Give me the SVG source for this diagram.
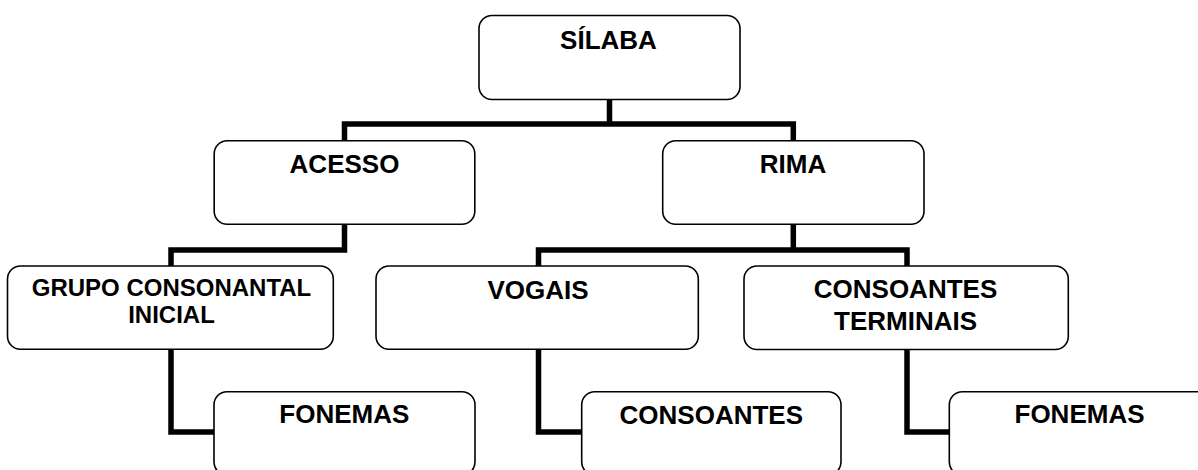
<svg xmlns="http://www.w3.org/2000/svg" width="1198" height="470" viewBox="0 0 1198 470">
<style>
.box{fill:#fff;stroke:#000;stroke-width:1.6}
.lbl{font-family:"Liberation Sans",Arial,sans-serif;font-weight:bold;font-size:26px;fill:#000;text-anchor:middle}
.sm{font-size:24px}
.con{fill:none;stroke:#000;stroke-width:5.5;stroke-linecap:square;stroke-linejoin:miter}
</style>
<rect width="1198" height="470" fill="#fff"/>
<g id="connectors">
<path class="con" d="M609.5,99.3 V124 M344.5,140.7 V124 H793.3 V140.7"/>
<path class="con" d="M344.5,224.3 V250 H171 V266"/>
<path class="con" d="M793.3,224.3 V250 M538.5,266 V250 H907 V266"/>
<path class="con" d="M171,349.3 V432 H214"/>
<path class="con" d="M538.5,349.3 V432 H581.7"/>
<path class="con" d="M907,349.3 V432 H949.3"/>
</g>
<g id="silaba">
<rect class="box" x="479" y="15.5" width="261" height="84" rx="13"/>
<text class="lbl" x="608.5" y="48.5">SÍLABA</text>
</g>
<g id="acesso">
<rect class="box" x="214.2" y="140.7" width="260.6" height="83.6" rx="13"/>
<text class="lbl" x="344.5" y="173.3">ACESSO</text>
</g>
<g id="rima">
<rect class="box" x="662.7" y="140.7" width="261.3" height="83.6" rx="13"/>
<text class="lbl" x="793" y="172.8">RIMA</text>
</g>
<g id="grupo">
<rect class="box" x="7.5" y="266" width="325.8" height="83.3" rx="13"/>
<text class="lbl sm" x="171.5" y="296">GRUPO CONSONANTAL</text>
<text class="lbl sm" x="171.5" y="323.3">INICIAL</text>
</g>
<g id="vogais">
<rect class="box" x="376" y="266" width="322.3" height="83.3" rx="13"/>
<text class="lbl" x="538" y="298.8">VOGAIS</text>
</g>
<g id="consoantes-terminais">
<rect class="box" x="744" y="266" width="324.3" height="83.5" rx="13"/>
<text class="lbl" x="905.5" y="298.3">CONSOANTES</text>
<text class="lbl" x="905.5" y="330">TERMINAIS</text>
</g>
<g id="fonemas-1">
<rect class="box" x="214" y="391.7" width="261" height="83.5" rx="13"/>
<text class="lbl" x="344.3" y="423.3">FONEMAS</text>
</g>
<g id="consoantes">
<rect class="box" x="581.7" y="391.7" width="259.3" height="83.5" rx="13"/>
<text class="lbl" x="711.3" y="423.5">CONSOANTES</text>
</g>
<g id="fonemas-2">
<rect class="box" x="949.3" y="391.7" width="261" height="83.5" rx="13"/>
<text class="lbl" x="1079.5" y="423.3">FONEMAS</text>
</g>
</svg>
